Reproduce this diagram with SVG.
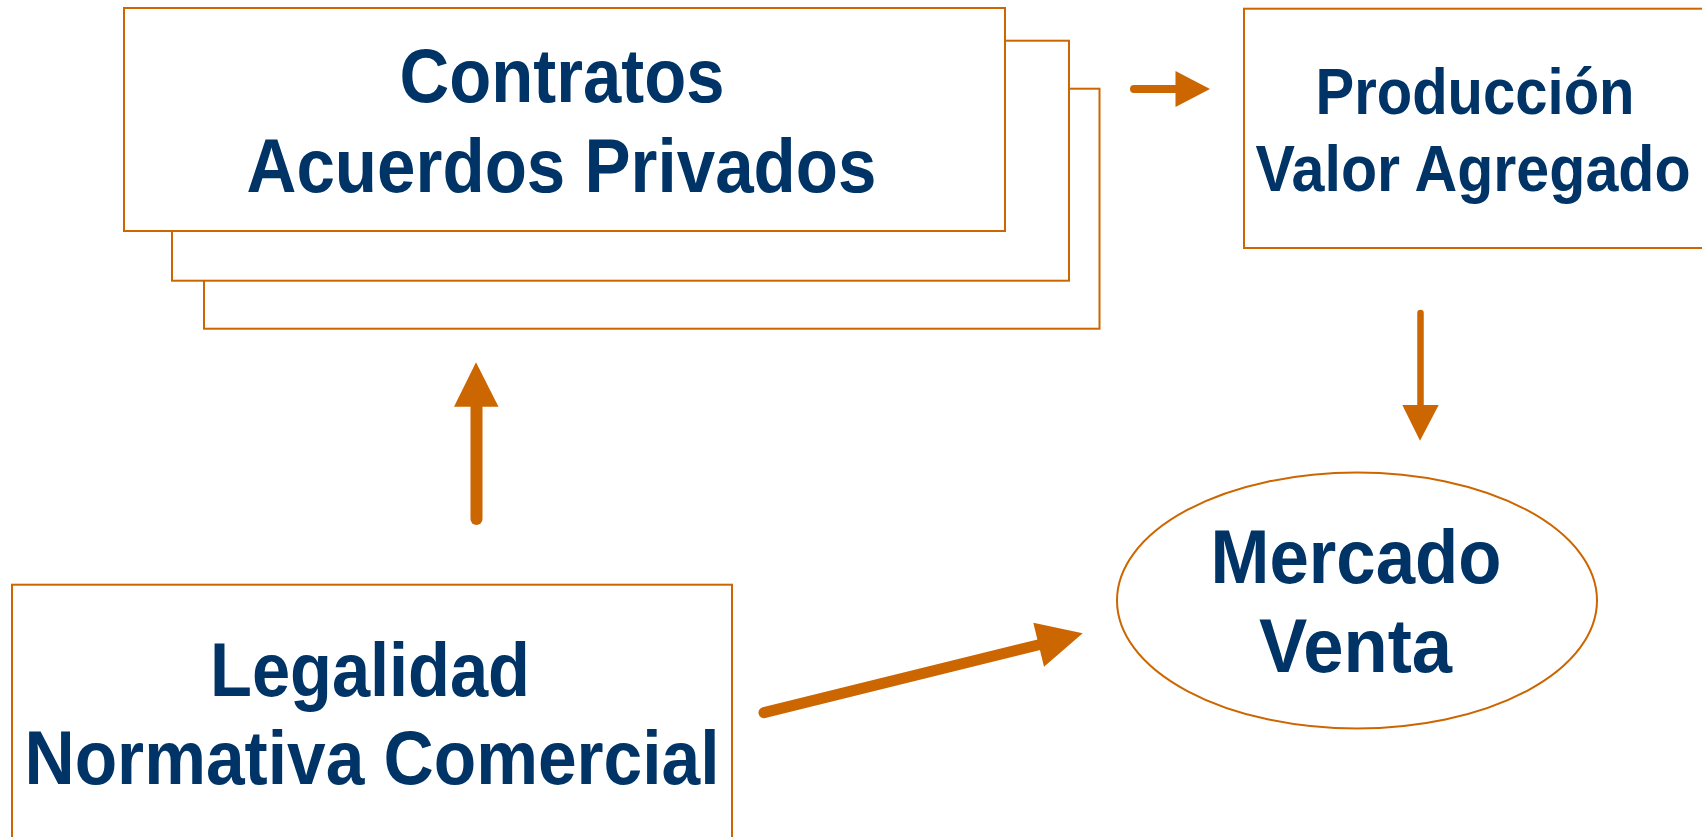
<svg xmlns="http://www.w3.org/2000/svg" width="1702" height="837" viewBox="0 0 1702 837">
<style>
.box{fill:#ffffff;stroke:#CC6600;stroke-width:2}
.lbl{font-family:"Liberation Sans",Arial,sans-serif;font-weight:bold;fill:#003366;text-anchor:middle}
.big{font-size:76px}
.mid{font-size:64px}
.shaft{stroke:#CC6600;stroke-linecap:round;fill:none}
.head{fill:#CC6600}
</style>
<rect width="1702" height="837" fill="#ffffff"/>
<g id="contratos">
<rect class="box" x="204" y="88.7" width="895.5" height="240"/>
<rect class="box" x="172" y="40.7" width="897" height="240"/>
<rect class="box" x="124" y="8" width="881" height="223"/>
<text class="lbl big" x="562" y="101.7" textLength="325" lengthAdjust="spacingAndGlyphs">Contratos</text>
<text class="lbl big" x="561.5" y="191.7" textLength="630" lengthAdjust="spacingAndGlyphs">Acuerdos Privados</text>
</g>
<g id="produccion">
<rect class="box" x="1244" y="8.7" width="470" height="239.3"/>
<text class="lbl mid" x="1475" y="114.3" textLength="319" lengthAdjust="spacingAndGlyphs">Producción</text>
<text class="lbl mid" transform="translate(1473,191) scale(0.925,1)" x="0" y="0">Valor Agregado</text>
</g>
<g id="legalidad">
<rect class="box" x="12" y="584.7" width="720" height="270"/>
<text class="lbl big" x="370" y="695.7" textLength="320" lengthAdjust="spacingAndGlyphs">Legalidad</text>
<text class="lbl big" x="372" y="784.3" textLength="695" lengthAdjust="spacingAndGlyphs">Normativa Comercial</text>
</g>
<g id="mercado">
<ellipse class="box" cx="1357" cy="600.5" rx="240" ry="128"/>
<text class="lbl big" x="1356" y="583.3" textLength="291" lengthAdjust="spacingAndGlyphs">Mercado</text>
<text class="lbl big" x="1355.5" y="672.3" textLength="193" lengthAdjust="spacingAndGlyphs">Venta</text>
</g>
<g id="connectors">
<line class="shaft" x1="1134" y1="89" x2="1178" y2="89" stroke-width="8"/>
<polygon class="head" points="1175.5,71 1210,89 1175.5,107"/>
<line class="shaft" x1="1420.5" y1="313" x2="1420.5" y2="407" stroke-width="6.5"/>
<polygon class="head" points="1402.3,405 1438.7,405 1420,440.7"/>
<line class="shaft" x1="476.5" y1="519" x2="476.5" y2="404" stroke-width="12"/>
<polygon class="head" points="454,406.7 476,362.3 498.5,406.7"/>
<line class="shaft" x1="764" y1="712.7" x2="1040" y2="644.5" stroke-width="11"/>
<polygon class="head" points="1033.3,622.7 1082.7,633.3 1044,666.7"/>
</g>
</svg>
